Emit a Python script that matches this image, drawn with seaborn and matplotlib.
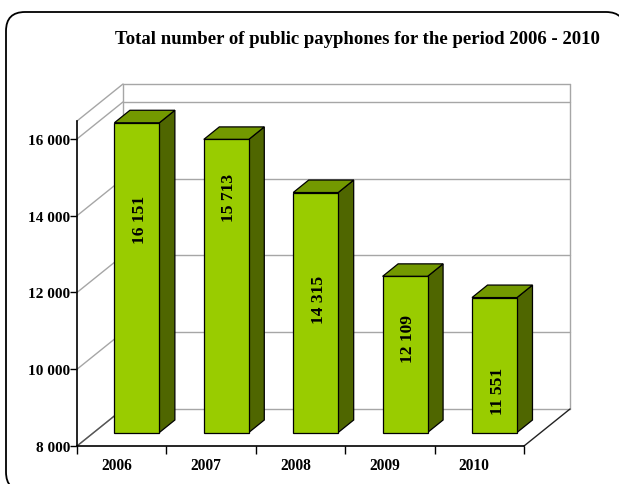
import matplotlib
matplotlib.use("Agg")
import matplotlib.pyplot as plt
from matplotlib.patches import FancyBboxPatch, Polygon
from matplotlib.transforms import ScaledTranslation
import pandas as pd
import seaborn as sns

years = ["2006", "2007", "2008", "2009", "2010"]
payphones = [16151, 15713, 14315, 12109, 11551]
value_labels = ["16 151", "15 713", "14 315", "12 109", "11 551"]
y_ticks = [8000, 10000, 12000, 14000, 16000]
y_tick_labels = ["8 000", "10 000", "12 000", "14 000", "16 000"]
title = "Total number of public payphones for the period 2006 - 2010"

# Height along each bar where its rotated value label is centred
label_heights = [13632, 14210, 11526, 10474, 9118]

W, H = 619, 485
FRONT = "#99CC00"
SIDE = "#4F6600"
TOP = "#739900"
GRID = "#A6A6A6"
FONT = "Liberation Serif"

sns.set_theme(style="white")
plt.rcParams["font.family"] = [FONT, "DejaVu Serif"]

fig = plt.figure(figsize=(W / 100, H / 100), dpi=100, facecolor="white")


def box(left, right, bottom_y, top_y):
    """Axes rectangle from pixel edges measured from the top of the figure."""
    return [left / W, 1 - bottom_y / H, (right - left) / W, (bottom_y - top_y) / H]


# Rounded outer frame, running off the right and bottom edges
fig.add_artist(FancyBboxPatch(
    (6, H - 492), 619, 479,
    boxstyle="round,pad=0,rounding_size=19",
    transform=None, facecolor="white", edgecolor="black",
    linewidth=1.3, clip_on=False, zorder=-1))

# Value axis and floor of the 3D box
ax = fig.add_axes(box(77, 524, 447, 122))
ax.patch.set_alpha(0)
y_top = 8000 + 325 / 0.03838
ax.set_xlim(-0.5, 4.5)
ax.set_ylim(8000, y_top)

depth_x = 46 / (447 / 5)
depth_y = 37 / 0.03838

# Side wall diagonals and the back wall grid
for v in y_ticks + [y_top]:
    ax.plot([-0.5, -0.5 + depth_x], [v, v + depth_y], color=GRID, lw=1, clip_on=False, zorder=1)
    back_right = 4.5 + depth_x
    ax.plot([-0.5 + depth_x, back_right], [v + depth_y] * 2, color=GRID, lw=1, clip_on=False, zorder=1)
for xv in (-0.5 + depth_x, 4.5 + depth_x):
    ax.plot([xv, xv], [8000 + depth_y, y_top + depth_y], color=GRID, lw=1, clip_on=False, zorder=1)
ax.plot([-0.5, -0.5 + depth_x], [8000, 8000 + depth_y], color="#555555", lw=1, clip_on=False, zorder=1)
ax.plot([4.5, 4.5 + depth_x], [8000, 8000 + depth_y], color="#222222", lw=1, clip_on=False, zorder=1)

for side in ("top", "right"):
    ax.spines[side].set_visible(False)
for side in ("left", "bottom"):
    ax.spines[side].set_color("black")
    ax.spines[side].set_linewidth(1.2)

ax.set_yticks(y_ticks, y_tick_labels, fontsize=11, fontweight="bold", color="black")
ax.tick_params(axis="y", left=True, length=5, width=1, color="black", pad=0)
ax.set_xticks(range(len(years)), years, fontsize=11.2, fontweight="bold", color="black")
ax.set_xticks([i - 0.5 for i in range(len(years) + 1)], minor=True)
ax.tick_params(axis="x", which="major", bottom=False, length=0, pad=8)
ax.tick_params(axis="x", which="minor", bottom=True, length=6, width=1, color="black")
shift = ScaledTranslation(-5 / 100, 0, fig.dpi_scale_trans)
for lab in ax.get_xticklabels():
    lab.set_transform(lab.get_transform() + shift)

# Bars stand in the middle of the floor, on their own overlaid scale
bar_ax = fig.add_axes(box(92.2, 539.2, 433.5, 122.5))
bar_ax.patch.set_alpha(0)
bar_scale = 0.038
df = pd.DataFrame({"year": years, "payphones": payphones})
sns.barplot(data=df, x="year", y="payphones", ax=bar_ax, color=FRONT, saturation=1,
            width=0.503, edgecolor="black", linewidth=0.9, zorder=3)
bar_ax.set_xlim(-0.5, 4.5)
bar_ax.set_ylim(8000, 8000 + 311 / bar_scale)
bar_ax.axis("off")

off_x = 15.5 / (447 / 5)
off_y = 12.5 / bar_scale
for bar in bar_ax.patches[:len(years)]:
    x0, x1 = bar.get_x(), bar.get_x() + bar.get_width()
    y1 = bar.get_height()
    # Start the bar at the axis floor so its lower edge can be drawn unclipped
    bar.set_y(8000)
    bar.set_height(y1 - 8000)
    bar.set_clip_on(False)
    side_face = [(x1, 8000), (x1 + off_x, 8000 + off_y), (x1 + off_x, y1 + off_y), (x1, y1)]
    top_face = [(x0, y1), (x0 + off_x, y1 + off_y), (x1 + off_x, y1 + off_y), (x1, y1)]
    for pts, col in ((side_face, SIDE), (top_face, TOP)):
        bar_ax.add_patch(Polygon(pts, closed=True, facecolor=col, edgecolor="black",
                                 linewidth=0.9, zorder=2.5, clip_on=False))

for i, (text, h) in enumerate(zip(value_labels, label_heights)):
    bar_ax.text(i + 0.035, h, text, rotation=90, ha="center", va="center",
                fontsize=12.6, fontweight="bold", color="black", zorder=4)

fig.text(357 / W, 1 - 39 / H, title, ha="center", va="center",
         fontsize=13.5, fontweight="bold", color="black")

fig.savefig("out.png", dpi=100, facecolor="white")
